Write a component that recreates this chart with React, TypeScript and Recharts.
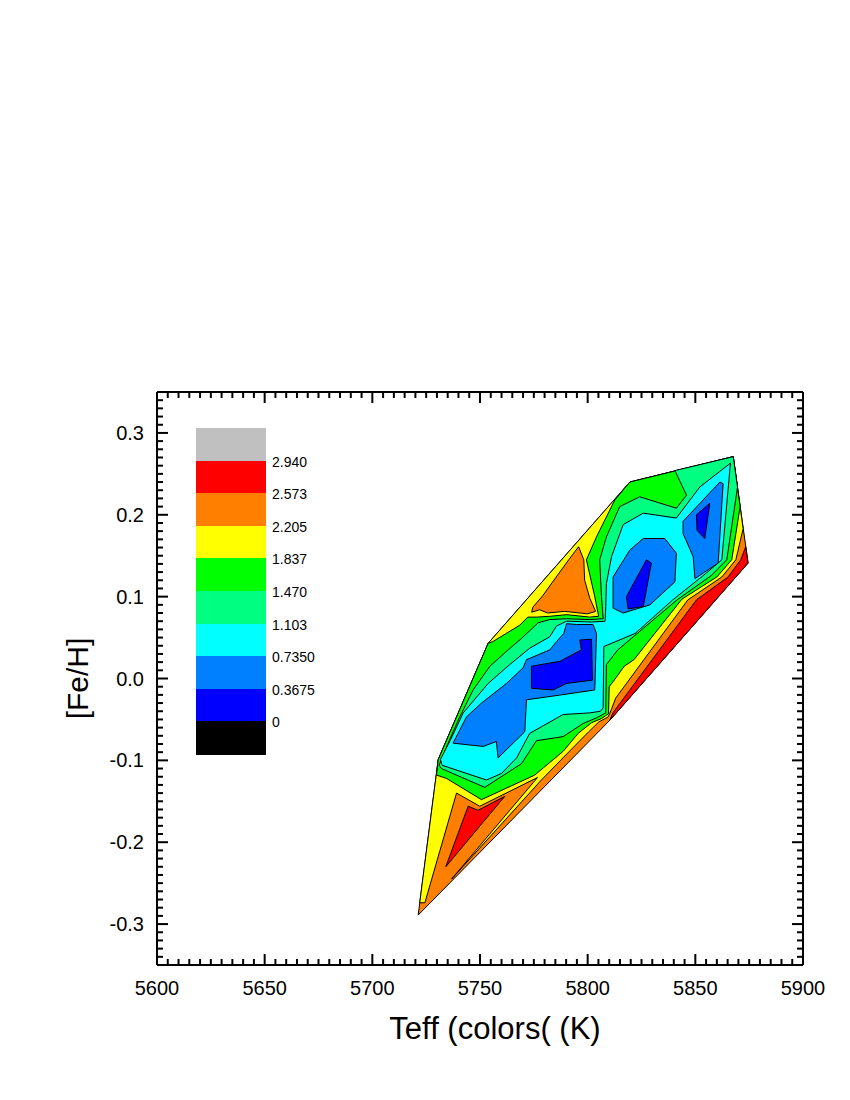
import React from "react";
import { ScatterChart, Scatter, XAxis, YAxis, Legend } from "recharts";

type Pt = [number, number];

// contour regions as [Teff, [Fe/H]] vertices, painted bottom to top
const HULL: Pt[] = [[5721.3, -0.289], [5730.6, -0.099], [5753.8, 0.043], [5819.6, 0.24], [5867.6, 0.271], [5874.5, 0.141], [5810.3, -0.051]];
const RED_EDGE: Pt[] = [[5873.4, 0.161], [5874.5, 0.141], [5810.3, -0.051], [5811.7, -0.042], [5850.5, 0.096], [5865.2, 0.124], [5871.1, 0.145]];
const YELLOW_SET: Pt[] = [
  [5722.0, -0.274], [5730.6, -0.099], [5753.8, 0.043], [5819.6, 0.24], [5867.6, 0.271], [5872.2, 0.183], [5868.8, 0.145],
  [5862.3, 0.124], [5846.5, 0.096], [5813.0, -0.024], [5811.0, -0.038], [5809.5, -0.047], [5805.2, -0.053], [5800.5, -0.065],
  [5788.9, -0.096], [5778.5, -0.124], [5736.8, -0.245], [5776.7, -0.121], [5749.9, -0.156], [5739.1, -0.14], [5724.4, -0.274],
];
const ORANGE_BUMP: Pt[] = [
  [5795.8, 0.161], [5791.2, 0.145], [5785.1, 0.123], [5779.1, 0.101], [5774.5, 0.087], [5774.0, 0.081], [5777.7, 0.084],
  [5781.4, 0.08], [5789.3, 0.082], [5800.0, 0.079], [5803.7, 0.082], [5801.0, 0.098], [5798.6, 0.12], [5798.2, 0.145],
];
const RED_ISLAND: Pt[] = [[5744.5, -0.156], [5749.1, -0.161], [5761.5, -0.144], [5734.1, -0.23]];
const GREEN_SET: Pt[] = [
  [5729.8, -0.118], [5734.4, -0.122], [5750.7, -0.148], [5775.4, -0.118], [5788.6, -0.089], [5795.6, -0.067], [5801.8, -0.054],
  [5806.4, -0.049], [5809.7, -0.043], [5810.0, -0.01], [5811.8, -0.004], [5817.0, 0.015], [5821.5, 0.023], [5843.8, 0.097],
  [5860.0, 0.124], [5866.9, 0.145], [5870.8, 0.21], [5867.6, 0.271], [5819.6, 0.24], [5812.6, 0.218], [5804.1, 0.173],
  [5799.4, 0.145], [5803.3, 0.1], [5805.1, 0.076], [5801.0, 0.075], [5790.3, 0.078], [5782.4, 0.076], [5776.3, 0.075],
  [5772.2, 0.075], [5768.4, 0.065], [5755.9, 0.045], [5753.8, 0.043], [5730.6, -0.099],
];
const SPRING_SET: Pt[] = [
  [5732.1, -0.11], [5752.2, -0.133], [5769.3, -0.104], [5776.2, -0.076], [5788.6, -0.071], [5797.9, -0.055], [5804.1, -0.048],
  [5808.4, -0.042], [5808.7, 0.017], [5814.0, 0.035], [5841.5, 0.096], [5857.5, 0.126], [5864.6, 0.145], [5869.6, 0.234],
  [5867.6, 0.271], [5840.5, 0.254], [5845.9, 0.224], [5841.2, 0.208], [5824.2, 0.222], [5814.9, 0.21], [5808.7, 0.173],
  [5805.6, 0.145], [5806.4, 0.1], [5807.2, 0.073], [5801.0, 0.072], [5790.2, 0.073], [5782.4, 0.072], [5777.0, 0.068],
  [5769.3, 0.049], [5763.1, 0.035], [5754.6, 0.015], [5746.8, -0.014], [5740.6, -0.047], [5735.2, -0.079], [5731.0, -0.106],
];
const CYAN_SET: Pt[] = [
  [5731.6, -0.099], [5732.4, -0.106], [5753.0, -0.124], [5760.0, -0.116], [5767.0, -0.097], [5773.1, -0.067], [5788.6, -0.044],
  [5801.0, -0.042], [5805.9, -0.04], [5807.2, -0.036], [5807.5, 0.039], [5822.0, 0.055], [5839.5, 0.096], [5855.2, 0.129],
  [5862.3, 0.145], [5866.3, 0.263], [5852.1, 0.234], [5841.2, 0.196], [5825.8, 0.202], [5816.5, 0.188], [5811.1, 0.149],
  [5808.7, 0.116], [5808.4, 0.088], [5808.1, 0.07], [5801.8, 0.069], [5790.2, 0.07], [5785.5, 0.064], [5782.4, 0.051],
  [5773.1, 0.037], [5763.8, 0.017], [5753.8, -0.006], [5742.2, -0.042], [5736.3, -0.075],
];
const DODGER_LEFT: Pt[] = [
  [5737.5, -0.079], [5751.5, -0.083], [5757.6, -0.077], [5758.4, -0.097], [5770.8, -0.065], [5771.6, -0.026], [5787.8, -0.02],
  [5803.3, -0.014], [5804.1, 0.055], [5802.5, 0.066], [5794.8, 0.066], [5790.2, 0.067], [5788.9, 0.055], [5785.5, 0.045],
  [5782.4, 0.035], [5771.6, 0.023], [5770.0, 0.013], [5762.3, -0.006], [5750.7, -0.03], [5743.7, -0.047],
];
const DODGER_RIGHT: Pt[] = [[5811.8, 0.124], [5819.6, 0.157], [5825.8, 0.171], [5835.8, 0.171], [5841.2, 0.153], [5840.5, 0.118], [5828.9, 0.09], [5816.5, 0.08], [5811.8, 0.086]];
const DODGER_SMALL: Pt[] = [[5844.3, 0.192], [5861.4, 0.24], [5862.9, 0.238], [5860.6, 0.141], [5849.8, 0.122], [5849.0, 0.149], [5844.3, 0.177]];
const BLUE_LEFT: Pt[] = [[5773.9, 0.015], [5787.1, 0.021], [5797.1, 0.035], [5796.3, 0.047], [5801.8, 0.048], [5802.2, -0.002], [5790.2, -0.006], [5784.0, -0.014], [5773.9, -0.012]];
const BLUE_RIGHT: Pt[] = [[5818.0, 0.1], [5827.3, 0.145], [5829.6, 0.141], [5825.8, 0.088], [5818.8, 0.085]];
const BLUE_SMALL: Pt[] = [[5850.5, 0.2], [5856.7, 0.214], [5854.4, 0.171], [5850.8, 0.181]];

// colour scale, top (highest) to bottom
const BAND_COLORS = ["#c0c0c0", "#ff0000", "#ff8000", "#ffff00", "#00ff00", "#00ff80", "#00ffff", "#0080ff", "#0000ff", "#000000"];
const LEVEL_LABELS = ["2.940", "2.573", "2.205", "1.837", "1.470", "1.103", "0.7350", "0.3675", "0"];

const X_MAJOR = [5600, 5650, 5700, 5750, 5800, 5850, 5900];
const Y_MAJOR = [-0.3, -0.2, -0.1, 0, 0.1, 0.2, 0.3];
const Y_LABELS = ["-0.3", "-0.2", "-0.1", "0.0", "0.1", "0.2", "0.3"];
const X_TICKS = Array.from({ length: 61 }, (_, i) => 5600 + i * 5);
const Y_TICKS = Array.from({ length: 71 }, (_, i) => (i - 35) / 100);
// anchor so the mirrored top/right axes get drawn
const FRAME_ANCHOR = [{ x: 5600, y: -0.35 }];

const [, RED, ORANGE, YELLOW, GREEN, SPRING, CYAN, DODGER, BLUE] = BAND_COLORS;

const LAYERS: { name: string; pts: Pt[]; color: string }[] = [
  { name: "hull", pts: HULL, color: ORANGE },
  { name: "redEdge", pts: RED_EDGE, color: RED },
  { name: "yellow", pts: YELLOW_SET, color: YELLOW },
  { name: "bump", pts: ORANGE_BUMP, color: ORANGE },
  { name: "redIsland", pts: RED_ISLAND, color: RED },
  { name: "green", pts: GREEN_SET, color: GREEN },
  { name: "spring", pts: SPRING_SET, color: SPRING },
  { name: "cyan", pts: CYAN_SET, color: CYAN },
  { name: "dodgerL", pts: DODGER_LEFT, color: DODGER },
  { name: "dodgerR", pts: DODGER_RIGHT, color: DODGER },
  { name: "dodgerS", pts: DODGER_SMALL, color: DODGER },
  { name: "blueL", pts: BLUE_LEFT, color: BLUE },
  { name: "blueR", pts: BLUE_RIGHT, color: BLUE },
  { name: "blueS", pts: BLUE_SMALL, color: BLUE },
];

const FONT = "'Liberation Sans', Arial, Helvetica, sans-serif";
const MAJOR_LEN = 11;
const MINOR_LEN = 6;

const isXMajor = (v: number) => X_MAJOR.includes(v);
const yMajorIndex = (v: number) => Y_MAJOR.findIndex((m) => Math.abs(m - v) < 1e-6);

function BottomTick({ x, y, payload }: any) {
  const major = isXMajor(payload.value);
  return (
    <g>
      <line x1={x} x2={x} y1={y} y2={y - (major ? MAJOR_LEN : MINOR_LEN)} stroke="#000" strokeWidth={2} />
      {major && (
        <text x={x} y={y + 30} textAnchor="middle" fontSize={20} fontFamily={FONT} fill="#000">
          {payload.value}
        </text>
      )}
    </g>
  );
}

function TopTick({ x, y, payload }: any) {
  const major = isXMajor(payload.value);
  return <line x1={x} x2={x} y1={y} y2={y + (major ? MAJOR_LEN : MINOR_LEN)} stroke="#000" strokeWidth={2} />;
}

function LeftTick({ x, y, payload }: any) {
  const idx = yMajorIndex(payload.value);
  return (
    <g>
      <line x1={x} x2={x + (idx >= 0 ? MAJOR_LEN : MINOR_LEN)} y1={y} y2={y} stroke="#000" strokeWidth={2} />
      {idx >= 0 && (
        <text x={x - 13} y={y + 7} textAnchor="end" fontSize={20} fontFamily={FONT} fill="#000">
          {Y_LABELS[idx]}
        </text>
      )}
    </g>
  );
}

function RightTick({ x, y, payload }: any) {
  const major = yMajorIndex(payload.value) >= 0;
  return <line x1={x} x2={x - (major ? MAJOR_LEN : MINOR_LEN)} y1={y} y2={y} stroke="#000" strokeWidth={2} />;
}

function ColorScale() {
  const h = 32.6;
  return (
    <div style={{ position: "relative", width: 130, height: h * BAND_COLORS.length, fontFamily: FONT }}>
      {BAND_COLORS.map((c, i) => (
        <div key={c} style={{ position: "absolute", left: 0, top: i * h, width: 70, height: h + 0.6, background: c }} />
      ))}
      {LEVEL_LABELS.map((t, i) => (
        <div
          key={t}
          style={{ position: "absolute", left: 76, top: (i + 1) * h - 7, fontSize: 14, lineHeight: "16px", color: "#000" }}
        >
          {t}
        </div>
      ))}
    </div>
  );
}

const noDot = () => <g />;
const axisLine = { stroke: "#000", strokeWidth: 2 };

export default function App() {
  return (
    <div style={{ position: "absolute", left: 0, top: 0 }}>
      <ScatterChart width={850} height={1100} margin={{ top: 391, right: 46, bottom: 9, left: 3 }}>
        <XAxis
          xAxisId="b"
          type="number"
          dataKey="x"
          domain={[5600, 5900]}
          allowDataOverflow
          ticks={X_TICKS}
          interval={0}
          height={126}
          tickSize={0}
          tickMargin={0}
          tickLine={false}
          axisLine={axisLine}
          tick={(p: any) => <BottomTick {...p} />}
          label={{ value: "Teff (colors( (K)", position: "center", dx: 15, fontSize: 31, fontFamily: FONT, fill: "#000" }}
        />
        <XAxis
          xAxisId="t"
          orientation="top"
          type="number"
          dataKey="x"
          domain={[5600, 5900]}
          allowDataOverflow
          ticks={X_TICKS}
          interval={0}
          height={1}
          tickSize={0}
          tickMargin={0}
          tickLine={false}
          axisLine={axisLine}
          tick={(p: any) => <TopTick {...p} />}
        />
        <YAxis
          yAxisId="l"
          type="number"
          dataKey="y"
          domain={[-0.35, 0.35]}
          allowDataOverflow
          ticks={Y_TICKS}
          interval={0}
          width={154}
          tickSize={0}
          tickMargin={0}
          tickLine={false}
          axisLine={axisLine}
          tick={(p: any) => <LeftTick {...p} />}
          label={{ value: "[Fe/H]", position: "center", angle: -90, dx: -3, fontSize: 30, fontFamily: FONT, fill: "#000" }}
        />
        <YAxis
          yAxisId="r"
          orientation="right"
          type="number"
          dataKey="y"
          domain={[-0.35, 0.35]}
          allowDataOverflow
          ticks={Y_TICKS}
          interval={0}
          width={1}
          tickSize={0}
          tickMargin={0}
          tickLine={false}
          axisLine={axisLine}
          tick={(p: any) => <RightTick {...p} />}
        />
        <Scatter
          name="frame"
          xAxisId="t"
          yAxisId="r"
          data={FRAME_ANCHOR}
          shape={noDot}
          legendType="none"
          isAnimationActive={false}
        />
        {LAYERS.map((l) => (
          <Scatter
            key={l.name}
            name={l.name}
            xAxisId="b"
            yAxisId="l"
            data={l.pts.map(([x, y]) => ({ x, y }))}
            shape={noDot}
            line={{ fill: l.color, stroke: "#000", strokeWidth: 1 }}
            lineJointType="linearClosed"
            legendType="none"
            isAnimationActive={false}
          />
        ))}
        <Legend
          layout="vertical"
          align="center"
          verticalAlign="middle"
          content={() => <ColorScale />}
          wrapperStyle={{ left: 196, top: 428, width: 130, height: 326 }}
        />
      </ScatterChart>
    </div>
  );
}
